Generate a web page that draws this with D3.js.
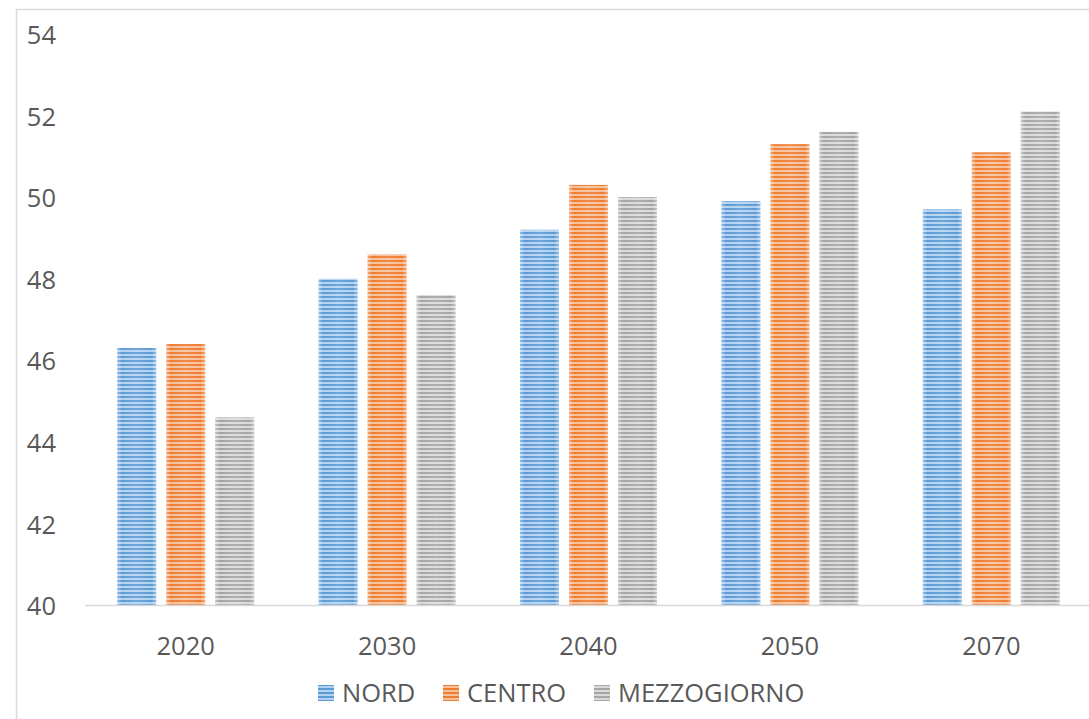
<!DOCTYPE html>
<html>
<head>
<meta charset="utf-8">
<script src="https://cdn.jsdelivr.net/npm/d3@7"></script>
<style>
  html, body { margin: 0; padding: 0; background: #fff; }
  svg { display: block; }
  text { font-family: "Open Sans", "Liberation Sans", sans-serif; fill: #595959; }
</style>
</head>
<body>
<svg id="chart" width="1089" height="719"></svg>
<script>
const categories = ["2020", "2030", "2040", "2050", "2070"];
const seriesNames = ["NORD", "CENTRO", "MEZZOGIORNO"];
const nord = [46.3, 48.0, 49.2, 49.9, 49.7];
const centro = [46.4, 48.6, 50.3, 51.3, 51.1];
const mezzogiorno = [44.6, 47.6, 50.0, 51.6, 52.1];
const yTicks = [40, 42, 44, 46, 48, 50, 52, 54];

const seriesValues = [nord, centro, mezzogiorno];
const palette = [
  { dark: "#5b9bd5", light: "#b4d2f0", id: "pNord" },
  { dark: "#ed7d31", light: "#f8c09b", id: "pCentro" },
  { dark: "#a5a5a5", light: "#dadada", id: "pMezz" }
];

const svg = d3.select("#chart");
const defs = svg.append("defs");
palette.forEach(p => {
  const pat = defs.append("pattern")
    .attr("id", p.id).attr("patternUnits", "userSpaceOnUse")
    .attr("width", 8).attr("height", 4);
  pat.append("rect").attr("width", 8).attr("height", 4).attr("fill", p.light);
  pat.append("rect").attr("width", 8).attr("height", 2).attr("fill", p.dark);
});
const sheen = defs.append("linearGradient").attr("id", "sheen")
  .attr("x1", 0).attr("x2", 1).attr("y1", 0).attr("y2", 0);
sheen.append("stop").attr("offset", "0%").attr("stop-color", "#fff").attr("stop-opacity", 0.35);
sheen.append("stop").attr("offset", "12%").attr("stop-color", "#fff").attr("stop-opacity", 0.0);
sheen.append("stop").attr("offset", "50%").attr("stop-color", "#fff").attr("stop-opacity", 0.12);
sheen.append("stop").attr("offset", "88%").attr("stop-color", "#fff").attr("stop-opacity", 0.0);
sheen.append("stop").attr("offset", "100%").attr("stop-color", "#fff").attr("stop-opacity", 0.35);

// outer border
svg.append("rect").attr("x", 16.5).attr("y", 9.5).attr("width", 1100).attr("height", 740)
  .attr("fill", "none").attr("stroke", "#d9d9d9").attr("stroke-width", 1.5);

const x0 = d3.scaleBand().domain(categories).range([85, 1092]).paddingInner(0.32).paddingOuter(0.16);
const x1 = d3.scaleBand().domain(seriesNames).range([0, x0.bandwidth()]).paddingInner(0.204).paddingOuter(0);
const y = d3.scaleLinear().domain([40, 54]).range([605, 34]);

// y tick labels
const yAxis = d3.axisLeft(y).tickValues(yTicks).tickSize(0).tickPadding(0).tickFormat(d3.format("d"));
const gy = svg.append("g").attr("transform", "translate(56,0)").call(yAxis);
gy.select(".domain").remove();
gy.selectAll("text").attr("font-size", 25.5).attr("fill", "#595959")
  .attr("font-family", "'Open Sans', sans-serif").attr("dy", "0.38em");

// bars
const groups = svg.append("g").selectAll("g").data(categories).join("g")
  .attr("transform", d => `translate(${x0(d)},0)`);
groups.each(function(cat, ci) {
  const g = d3.select(this);
  seriesNames.forEach((s, si) => {
    const v = seriesValues[si][ci];
    g.append("rect").attr("x", x1(s)).attr("y", y(v))
      .attr("width", x1.bandwidth()).attr("height", y(40) - y(v))
      .attr("fill", `url(#${palette[si].id})`);
    g.append("rect").attr("x", x1(s)).attr("y", y(v))
      .attr("width", x1.bandwidth()).attr("height", y(40) - y(v))
      .attr("fill", "url(#sheen)");
  });
});

// x axis
const xAxis = d3.axisBottom(x0).tickSize(0).tickPadding(0);
const gx = svg.append("g").attr("transform", `translate(0,${y(40)})`).call(xAxis);
gx.select(".domain").attr("stroke", "#d9d9d9").attr("stroke-width", 1.5)
  .attr("d", "M85,0.5H1089");
gx.selectAll("text").attr("font-size", 25.5).attr("fill", "#595959")
  .attr("font-family", "'Open Sans', sans-serif").attr("dy", "1.95em");

// legend
const legendX = [318, 443, 594];
const leg = svg.append("g");
seriesNames.forEach((s, i) => {
  leg.append("rect").attr("x", legendX[i]).attr("y", 685).attr("width", 16).attr("height", 16)
    .attr("fill", `url(#${palette[i].id})`);
  leg.append("text").attr("x", legendX[i] + 24).attr("y", 702)
    .attr("font-size", 25.5).text(s);
});
</script>
</body>
</html>
